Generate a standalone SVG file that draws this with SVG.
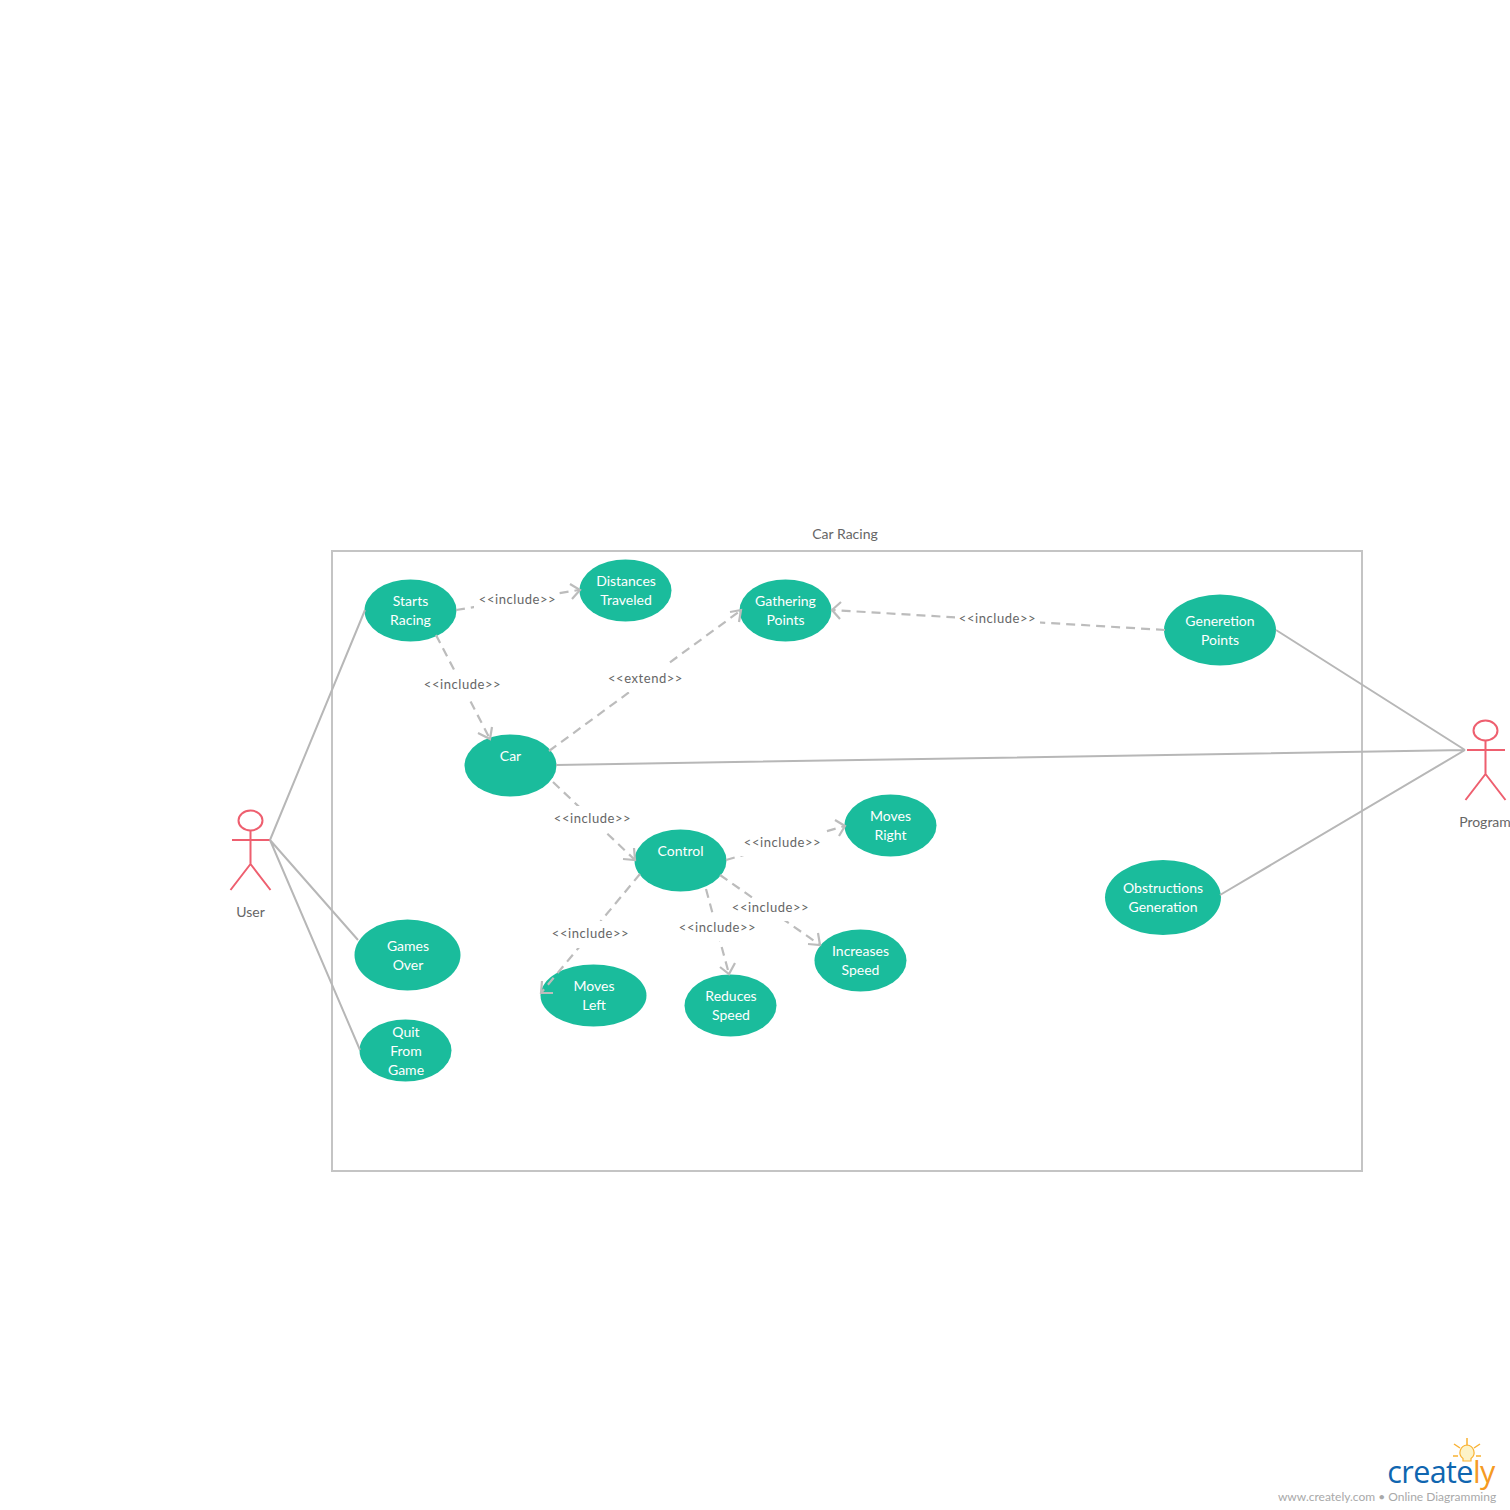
<svg xmlns="http://www.w3.org/2000/svg" width="1510" height="1510" viewBox="0 0 1510 1510">
<style>
text{font-family:Lato,"Noto Sans","Liberation Sans",sans-serif;text-anchor:middle}
.u ellipse{fill:#1abc9c}
.u text{fill:#fff;font-size:14px}
.a{fill:none;stroke:#ee5f6f;stroke-width:2}
.t{fill:#666;font-size:14px}
.l{fill:#666;font-size:13px;letter-spacing:.55px}
.s{stroke:#b7b7b7;stroke-width:2;fill:none}
.d{stroke:#bcbcbc;stroke-width:2.200;fill:none;stroke-dasharray:9 6}
.h{stroke:#bcbcbc;stroke-width:2.200;fill:none}
.b{fill:#fff}
</style>
<rect width="1510" height="1510" fill="#fff"/>
<rect id="system" x="332" y="551" width="1030" height="620" fill="none" stroke="#c4c4c4" stroke-width="2"/>
<text class="t" x="845" y="539">Car Racing</text>
<g id="actor-user"><ellipse class="a" cx="250.500" cy="820.500" rx="12" ry="10"/><path class="a" d="M250.500 831V864M232 840H270M250.500 864L230.500 890M250.500 864L270.500 890"/><text class="t" x="250.500" y="917">User</text></g>
<g id="actor-program"><ellipse class="a" cx="1485.500" cy="730.500" rx="12" ry="10"/><path class="a" d="M1485.500 741V774M1467 750H1505M1485.500 774L1465.500 800M1485.500 774L1505.500 800"/><text class="t" x="1485" y="827">Program</text></g>
<g id="uc-starts" class="u"><ellipse cx="410.500" cy="610.500" rx="46" ry="31"/><text x="410.500" y="606">Starts</text><text x="410.500" y="625">Racing</text></g>
<g id="uc-distances" class="u"><ellipse cx="625.500" cy="590.500" rx="46" ry="31"/><text x="626" y="586">Distances</text><text x="626" y="605">Traveled</text></g>
<g id="uc-gathering" class="u"><ellipse cx="785.500" cy="610.500" rx="46" ry="31"/><text x="785.500" y="606">Gathering</text><text x="785.500" y="625">Points</text></g>
<g id="uc-generetion" class="u"><ellipse cx="1220" cy="630" rx="56" ry="35.500"/><text x="1220" y="626">Generetion</text><text x="1220" y="645">Points</text></g>
<g id="uc-car" class="u"><ellipse cx="510.500" cy="765.500" rx="46" ry="31"/><text x="510.500" y="761">Car</text></g>
<g id="uc-control" class="u"><ellipse cx="680.500" cy="860.500" rx="46" ry="31"/><text x="680.500" y="856">Control</text></g>
<g id="uc-right" class="u"><ellipse cx="890.500" cy="825.500" rx="46" ry="31"/><text x="890.500" y="821">Moves</text><text x="890.500" y="840">Right</text></g>
<g id="uc-obstructions" class="u"><ellipse cx="1163" cy="897.500" rx="58" ry="37.500"/><text x="1163" y="893">Obstructions</text><text x="1163" y="912">Generation</text></g>
<g id="uc-increases" class="u"><ellipse cx="860.500" cy="960.500" rx="46" ry="31"/><text x="860.500" y="956">Increases</text><text x="860.500" y="975">Speed</text></g>
<g id="uc-games" class="u"><ellipse cx="407.500" cy="955" rx="53" ry="35.500"/><text x="408" y="951">Games</text><text x="408" y="970">Over</text></g>
<g id="uc-left" class="u"><ellipse cx="593.500" cy="995.500" rx="53" ry="31"/><text x="594" y="991">Moves</text><text x="594" y="1010">Left</text></g>
<g id="uc-reduces" class="u"><ellipse cx="730.500" cy="1005.500" rx="46" ry="31"/><text x="731" y="1001">Reduces</text><text x="731" y="1020">Speed</text></g>
<g id="uc-quit" class="u"><ellipse cx="405.500" cy="1050.500" rx="46" ry="31"/><text x="406" y="1037">Quit</text><text x="406" y="1056">From</text><text x="406" y="1075">Game</text></g>
<g id="connectors">
<path class="s" d="M270 840L365 610M270 840L358 940M270 840L360 1050M1465 750L1276 630M1465 750L556 765M1465 750L1220 895"/>
<path class="d" d="M456 610L579 590"/><path class="h" d="M570 584L580 590L572 599"/>
<rect class="b" x="474" y="586" width="85" height="26"/><text class="l" x="517.500" y="604">&lt;&lt;include&gt;&gt;</text>
<path class="d" d="M436 635L490 739"/><path class="h" d="M478 733L490 739L492 727"/>
<rect class="b" x="420" y="672" width="85" height="26"/><text class="l" x="462.500" y="689">&lt;&lt;include&gt;&gt;</text>
<path class="d" d="M549 751L740 611"/><path class="h" d="M730 612L741 610L739 622"/>
<rect class="b" x="603" y="665" width="85" height="27"/><text class="l" x="645.500" y="683">&lt;&lt;extend&gt;&gt;</text>
<path class="d" d="M1165 630L832 610"/><path class="h" d="M841 602L832 610L840 619"/>
<rect class="b" x="955" y="605" width="85" height="26"/><text class="l" x="997.500" y="623">&lt;&lt;include&gt;&gt;</text>
<path class="d" d="M553 782L635 860"/><path class="h" d="M623 859L635 860L634 848"/>
<rect class="b" x="550" y="806" width="85" height="26"/><text class="l" x="592.500" y="823">&lt;&lt;include&gt;&gt;</text>
<path class="d" d="M726 860L845 826"/><path class="h" d="M835 820L845 826L839 836"/>
<rect class="b" x="740" y="830" width="85" height="26"/><text class="l" x="782.500" y="847">&lt;&lt;include&gt;&gt;</text>
<path class="d" d="M720 875L820 945"/><path class="h" d="M808 944L820 945L818 933"/>
<rect class="b" x="728" y="898" width="85" height="23"/><text class="l" x="770.500" y="912">&lt;&lt;include&gt;&gt;</text>
<path class="d" d="M706 889L729 974"/><path class="h" d="M720 967L729 974L735 963"/>
<rect class="b" x="675" y="915" width="85" height="26"/><text class="l" x="717.500" y="932">&lt;&lt;include&gt;&gt;</text>
<path class="d" d="M640 874L541 993"/><path class="h" d="M542 981L541 993L553 993"/>
<rect class="b" x="548" y="921" width="85" height="27"/><text class="l" x="590.500" y="938">&lt;&lt;include&gt;&gt;</text>
</g>
<g id="logo">
<path d="M1467 1438v7M1454 1444l6 4M1480 1444l-6 4M1453 1456h5M1481 1456h-5" stroke="#f9b233" stroke-width="1.500" fill="none"/>
<path d="M1467 1445a7.500 7.500 0 0 1 4 13.500v2.500h-8v-2.500a7.500 7.500 0 0 1 4-13.500z" fill="#fdf3c8" stroke="#f9b233" stroke-width="1.200"/>
<text x="1441" y="1483" style="font-size:30.500px;font-weight:500;font-family:'Open Sans',sans-serif;letter-spacing:-.6px" fill="#0f66b0">create<tspan fill="#f59a23">ly</tspan></text>
<text x="1387" y="1501" style="font-size:12px" fill="#a9a9a9">www.creately.com • Online Diagramming</text>
</g>
</svg>
